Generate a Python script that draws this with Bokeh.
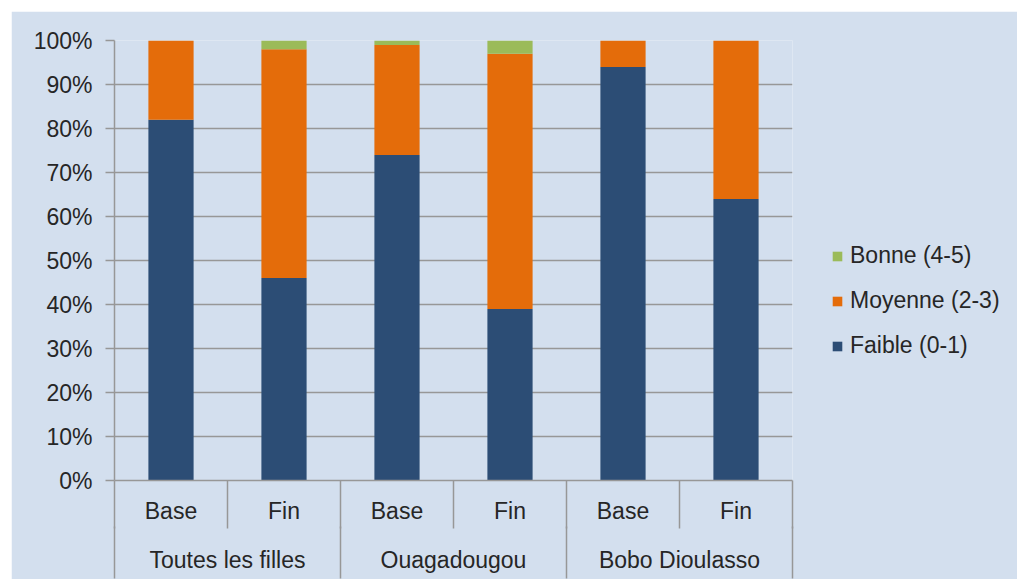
from bokeh.plotting import figure
from bokeh.models import (Range1d, FixedTicker, LinearAxis, Legend, LegendItem,
                          ColumnDataSource, PrintfTickFormatter)
from bokeh.embed import file_html
from bokeh.resources import INLINE
import numpy as np

# Categories: three groups, each with a baseline and an endline survey
groups = ["Toutes les filles", "Ouagadougou", "Bobo Dioulasso"]
periods = ["Base", "Fin"]

# Share of girls (%) per score level, in bar order
faible = [82, 46, 74, 39, 94, 64]    # Faible (0-1)
moyenne = [18, 52, 25, 58, 6, 36]    # Moyenne (2-3)
bonne = [0, 2, 1, 3, 0, 0]           # Bonne (4-5)

y_ticks = [0, 10, 20, 30, 40, 50, 60, 70, 80, 90, 100]

series = ["faible", "moyenne", "bonne"]
series_labels = ["Faible (0-1)", "Moyenne (2-3)", "Bonne (4-5)"]
colors = ["#2C4D75", "#E46C0A", "#9BBB59"]

BG = "#D3DFEE"
GRID = "#979797"
TEXT = "#262626"
FONT = "Liberation Sans"
FSIZE = "23px"

n_bars = len(groups) * len(periods)
x_centers = np.arange(n_bars) + 0.5
sub_labels = [per for g in groups for per in periods]

src = ColumnDataSource(dict(x=x_centers, faible=faible, moyenne=moyenne, bonne=bonne))

p = figure(frame_width=678, frame_height=440, x_range=Range1d(0, n_bars), y_range=Range1d(0, 100),
           output_backend="svg", toolbar_location=None, x_axis_location=None)
p.margin = (11, 0, 0, 11)
p.min_border_left = 103
p.min_border_right = 225
p.min_border_top = 29
p.min_border_bottom = 99
p.background_fill_color = BG
p.border_fill_color = BG
p.outline_line_color = None

renderers = p.vbar_stack(series, x="x", width=0.4, color=colors, line_color=None, source=src)

# y axis: percentages with outward ticks
yax = p.yaxis[0]
yax.ticker = FixedTicker(ticks=y_ticks, minor_ticks=[])
yax.formatter = PrintfTickFormatter(format="%d%%")
yax.major_tick_out = 9
yax.major_tick_in = 0
yax.minor_tick_out = 0
yax.minor_tick_in = 0
yax.major_label_standoff = 13
yax.axis_line_color = GRID
yax.axis_line_width = 1.5
yax.major_tick_line_color = GRID
yax.major_tick_line_width = 1.5
yax.major_label_text_font = FONT
yax.major_label_text_font_size = FSIZE
yax.major_label_text_color = TEXT

p.xgrid.visible = False
p.ygrid.ticker = FixedTicker(ticks=y_ticks, minor_ticks=[])
p.ygrid.grid_line_color = GRID
p.ygrid.grid_line_width = 1.5

# first category row: survey round, separators between every bar
ax1 = LinearAxis(ticker=FixedTicker(ticks=list(x_centers), minor_ticks=list(range(n_bars + 1))),
                 major_label_overrides={float(x): lab for x, lab in zip(x_centers, sub_labels)})
ax1.major_tick_out = 0
ax1.major_tick_in = 0
ax1.minor_tick_out = 48
ax1.minor_tick_in = 0
ax1.minor_tick_line_color = GRID
ax1.minor_tick_line_width = 1.5
ax1.axis_line_color = GRID
ax1.axis_line_width = 1.5
ax1.major_label_standoff = -31
ax1.major_label_text_font = FONT
ax1.major_label_text_font_size = FSIZE
ax1.major_label_text_color = TEXT
p.add_layout(ax1, "below")

# second category row: group names, separators between groups
group_centers = [len(periods) * i + len(periods) / 2 for i in range(len(groups))]
group_edges = [len(periods) * i for i in range(len(groups) + 1)]
ax2 = LinearAxis(ticker=FixedTicker(ticks=group_centers, minor_ticks=group_edges),
                 major_label_overrides={float(x): g for x, g in zip(group_centers, groups)})
ax2.major_tick_out = 0
ax2.major_tick_in = 0
ax2.minor_tick_out = 52
ax2.minor_tick_in = 0
ax2.minor_tick_line_color = GRID
ax2.minor_tick_line_width = 1.5
ax2.axis_line_color = None
ax2.major_label_standoff = -32
ax2.major_label_text_font = FONT
ax2.major_label_text_font_size = FSIZE
ax2.major_label_text_color = TEXT
p.add_layout(ax2, "below")

# legend, top entry is the top of the stack
items = [LegendItem(label=lab, renderers=[r]) for lab, r in zip(series_labels, renderers)][::-1]
legend = Legend(items=items, location=(39, 121))
legend.background_fill_alpha = 0
legend.border_line_color = None
legend.padding = 0
legend.margin = 0
legend.spacing = 18
legend.glyph_width = 12
legend.glyph_height = 12
legend.label_standoff = 7
legend.label_text_font = FONT
legend.label_text_font_size = FSIZE
legend.label_text_color = TEXT
p.add_layout(legend, "right")

open("out.html", "w").write(file_html(p, INLINE))
